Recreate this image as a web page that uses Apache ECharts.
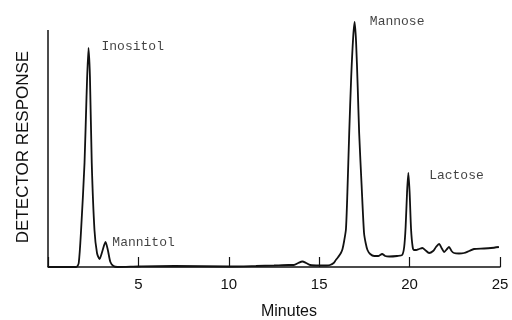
<!DOCTYPE html>
<html><head><meta charset="utf-8">
<script src="https://cdn.jsdelivr.net/npm/echarts@6/dist/echarts.min.js"></script>
<style>html,body{margin:0;padding:0;background:#fff}#c{width:512px;height:320px}</style>
</head><body><div id="c"></div>
<script>
var minutes = [0,1.0,1.57,1.70,1.83,2.02,2.13,2.24,2.32,2.42,2.57,2.71,2.85,3.01,3.18,3.31,3.45,3.62,3.84,5,7,10,11.5,12.5,13.3,13.6,13.84,14.07,14.28,14.5,15,15.4,15.6,15.8,15.92,16.05,16.2,16.29,16.38,16.48,16.56,16.66,16.77,16.88,16.96,17.04,17.13,17.21,17.35,17.48,17.57,17.67,17.82,18.04,18.26,18.48,18.65,18.87,19.31,19.59,19.7,19.78,19.86,19.93,20.0,20.08,20.17,20.25,20.36,20.52,20.71,20.86,21.08,21.3,21.46,21.63,21.8,21.91,22.07,22.18,22.32,22.46,22.73,23.01,23.29,23.56,24.12,24.5,24.94];
var response = [0,0,0,4,37,104,170,219,190,104,37,14,8,16,25,17,5,1,0,0.5,1,0.5,1,1.5,2,2,4,5.5,4,2,1.5,1.5,2,4,7,10,14,18,26,38,75,134,190,230,245,225,180,134,80,34,24,17,13,11,11,13,11,10.5,11,12,20,40,75,94,75,38,20,17,17,18,19,17,14,16,20,23,18,15,18,20,16,14,13.5,14,16,18,18.5,19,20];
var xTicks = [5,10,15,20,25];
var peakNames = ['Inositol','Mannitol','Mannose','Lactose'];
var labelX = [2.96,3.56,17.8,21.08];
var labelY = [220,24,245,91];
var yAxisTop = 237;

var chart = echarts.init(document.getElementById('c'), null, {renderer:'canvas'});
var lineData = minutes.map(function(t,i){return [t,response[i]];});
var labelData = peakNames.map(function(n,i){return {name:n,value:[labelX[i],labelY[i]]};});
chart.setOption({
  animation:false,
  backgroundColor:'#fff',
  grid:{left:48,right:12,top:17,bottom:53,containLabel:false,outerBoundsMode:'none'},
  xAxis:{type:'value',min:0,max:25,interval:5,
    axisLine:{show:true,lineStyle:{color:'#111',width:1.5}},
    axisTick:{show:true,inside:true,length:10,lineStyle:{color:'#111',width:1.2}},
    axisLabel:{margin:10,fontFamily:'Liberation Sans',fontSize:15,color:'#111',
      formatter:function(v){return xTicks.indexOf(v)>=0?String(v):'';}},
    splitLine:{show:false},
    name:'Minutes',nameLocation:'middle',nameGap:37,
    nameTextStyle:{fontFamily:'Liberation Sans',fontSize:16,color:'#111',padding:[0,0,0,30]}
  },
  yAxis:{type:'value',min:0,max:250,
    axisLine:{show:false},axisTick:{show:false},axisLabel:{show:false},splitLine:{show:false},
    name:'DETECTOR RESPONSE',nameLocation:'middle',nameGap:16,
    nameTextStyle:{fontFamily:'Liberation Sans',fontSize:17,color:'#111',padding:[0,10,0,0]}
  },
  series:[
    {type:'line',data:lineData,symbol:'none',smooth:0.25,
      lineStyle:{color:'#111',width:1.8},
      markLine:{silent:true,symbol:'none',label:{show:false},
        lineStyle:{color:'#111',width:1.5,type:'solid'},
        data:[[{coord:[0,0]},{coord:[0,yAxisTop]}]]}
    },
    {type:'scatter',data:labelData,symbolSize:0,
      label:{show:true,position:'right',distance:0,formatter:'{b}',
        fontFamily:'Liberation Mono',fontSize:13,color:'#111'}}
  ]
});
</script></body></html>
